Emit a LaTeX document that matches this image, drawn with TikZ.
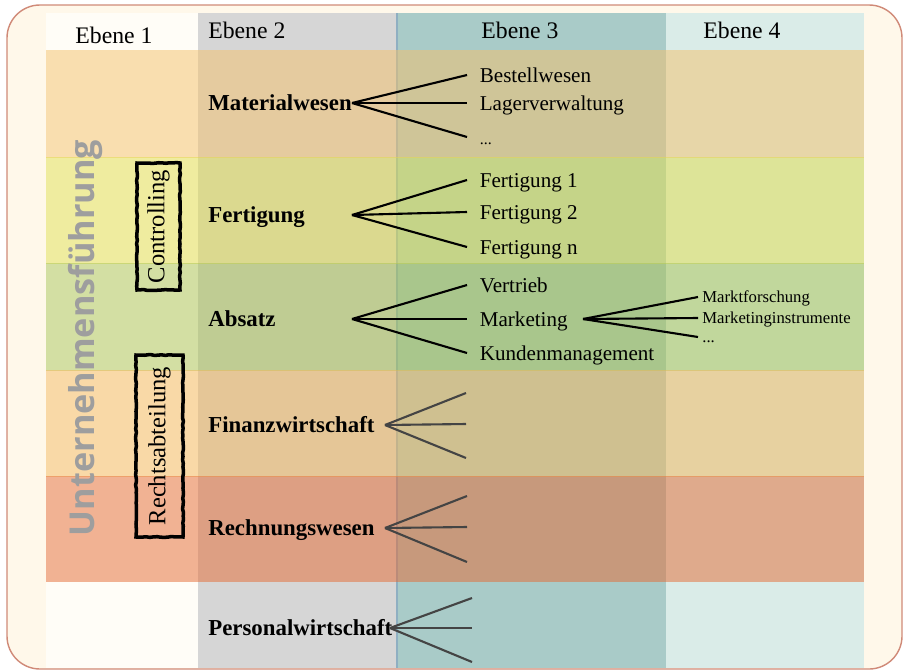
\documentclass[tikz,border=0pt]{standalone}
\usepackage{fontspec}
\setmainfont{Liberation Serif}
\newfontfamily\bigsans{Open Sans}
\usetikzlibrary{calc,decorations.pathmorphing}
\definecolor{frameline}{HTML}{D08A78}
\definecolor{framefill}{HTML}{FFF8EA}
\definecolor{colone}{HTML}{FFFDF7}
\definecolor{coltwo}{HTML}{D6D6D6}
\definecolor{colthree}{HTML}{A9CBC8}
\definecolor{colfour}{HTML}{DAECE8}
\definecolor{rowmat}{RGB}{245,193,105}
\definecolor{rowfert}{RGB}{225,221,73}
\definecolor{rowabs}{RGB}{169,195,81}
\definecolor{rowfin}{RGB}{245,183,89}
\definecolor{rowrech}{RGB}{229,105,49}
\definecolor{splitline}{HTML}{8FAFC2}
\definecolor{fangray}{HTML}{444444}
\definecolor{bigtext}{HTML}{9E9E9E}
\def\Column#1#2#3{%
  \fill[#3] (#1,13) rectangle (#2,668);
}
\def\Band#1#2#3{%
  \fill[#3, opacity=0.5] (46,#1) rectangle (864,#2);
}
\def\Fan#1#2#3{%
  \foreach \tip in {#3}
    \draw[fan line, #2] (#1) -- (\tip);
}

\begin{document}
\begin{tikzpicture}[x=0.02cm, y=-0.02cm,
  fan line/.style={line width=1.2pt},
  head/.style={inner sep=0pt, font=\fontsize{13.5}{16}\selectfont},
  dept/.style={anchor=west, inner sep=0pt, text height=9pt, text depth=0pt,
    font=\fontsize{13}{15}\selectfont\bfseries},
  item/.style={anchor=west, inner xsep=0.25cm, inner ysep=0pt, text height=8pt,
    text depth=0pt, font=\fontsize{12}{14}\selectfont},
  subitem/.style={anchor=west, inner xsep=0.08cm, inner ysep=0pt, text height=6.5pt,
    text depth=0pt, font=\fontsize{9.5}{11}\selectfont},
  staff box/.style={draw, rotate=90, line width=2pt, inner sep=0pt,
    decorate, decoration={random steps, segment length=2pt, amplitude=0.25pt},
    font=\fontsize{14}{16}\selectfont}]
\useasboundingbox (0,0) rectangle (905,670);
\draw[frameline, fill=framefill, line width=0.8pt, rounded corners=0.66cm] (7,5) rectangle (902,669);
% columns
\Column{46}{198}{colone}
\Column{198}{397}{coltwo}
\Column{397}{666}{colthree}
\Column{666}{864}{colfour}
\draw[splitline, line width=1.2pt] (397,13) -- (397,668);
% rows
\Band{50}{157.5}{rowmat}
\Band{157}{263.5}{rowfert}
\Band{263}{370.5}{rowabs}
\Band{370}{476.5}{rowfin}
\Band{476}{582}{rowrech}
% header
\node[head] (ebeneA) at (114,35) {Ebene 1};
\node[head, anchor=west] (ebeneB) at (208,30) {Ebene 2};
\node[head] (ebeneC) at (520,30) {Ebene 3};
\node[head] (ebeneD) at (742,30) {Ebene 4};
% left side
\node[rotate=90, inner sep=0pt, text=bigtext, font=\bigsans\fontsize{19.5}{24}\selectfont\bfseries]
  (leitung) at (86,338) {Unternehmensführung};
\node[staff box, minimum width=2.54cm, minimum height=0.86cm] (controlling) at (158.5,226.5) {Controlling};
\node[staff box, minimum width=3.64cm, minimum height=0.94cm] (recht) at (159.5,446) {Rechtsabteilung};
% departments
\node[dept] (matl) at (208,103) {Materialwesen};
\node[dept] (fert) at (208,215) {Fertigung};
\node[dept] (absatz) at (208,319) {Absatz};
\node[dept] (finanz) at (208,425) {Finanzwirtschaft};
\node[dept] (rechnung) at (208,528) {Rechnungswesen};
\node[dept] (personal) at (208,628) {Personalwirtschaft};
\coordinate (matApex) at (352,103);
\coordinate (fertApex) at (352,215);
\coordinate (absApex) at (352,319);
\coordinate (finApex) at (385,425);
\coordinate (rechApex) at (385,528);
\coordinate (persApex) at (390,628);
\coordinate (mktApex) at (583,319);
% level 3
\node[item] (bestell) at (467,75) {Bestellwesen};
\node[item] (lager) at (467,103) {Lagerverwaltung};
\node[item] (matMore) at (467,137) {\fontsize{9}{10}\selectfont ...};
\node[item] (fertA) at (467,180) {Fertigung 1};
\node[item] (fertB) at (467,212) {Fertigung 2};
\node[item] (fertN) at (467,247) {Fertigung n};
\node[item] (vertrieb) at (467,285) {Vertrieb};
\node[item] (mkt) at (467,319) {Marketing};
\node[item] (kunden) at (467,353) {Kundenmanagement};
% level 4
\node[subitem] (forschung) at (698,297) {Marktforschung};
\node[subitem] (instrumente) at (698,318) {Marketinginstrumente};
\node[subitem] (mktMore) at (698,337) {...};
\coordinate (finA) at (466,393);
\coordinate (finB) at (466,424);
\coordinate (finC) at (466,458);
\coordinate (rechA) at (467,496);
\coordinate (rechB) at (467,527);
\coordinate (rechC) at (467,562);
\coordinate (persA) at (472,598);
\coordinate (persB) at (472,628);
\coordinate (persC) at (472,662);
% fans
\Fan{matApex}{black}{bestell.west,lager.west,matMore.west}
\Fan{fertApex}{black}{fertA.west,fertB.west,fertN.west}
\Fan{absApex}{black}{vertrieb.west,mkt.west,kunden.west}
\Fan{mktApex}{black}{forschung.west,instrumente.west,mktMore.west}
\Fan{finApex}{fangray}{finA,finB,finC}
\Fan{rechApex}{fangray}{rechA,rechB,rechC}
\Fan{persApex}{fangray}{persA,persB,persC}
\end{tikzpicture}
\end{document}
